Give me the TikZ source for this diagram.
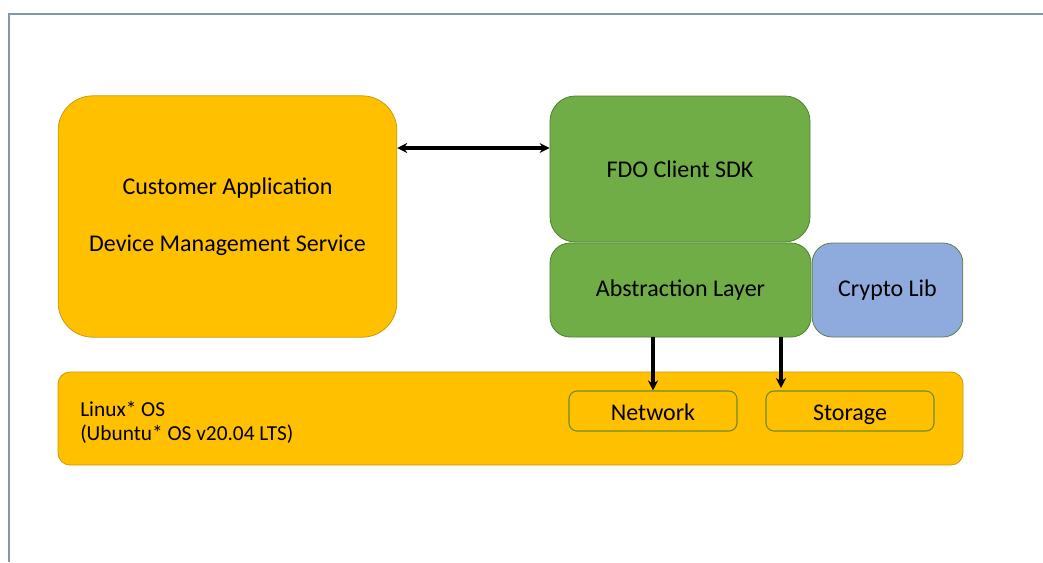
\documentclass[tikz,border=0pt]{standalone}
\usepackage{fontspec}
\setmainfont{Carlito}
\usetikzlibrary{arrows.meta}

\definecolor{appyellow}{HTML}{FFC000}
\definecolor{appyellowline}{HTML}{C99A06}
\definecolor{sdkgreen}{HTML}{70AD47}
\definecolor{sdkgreenline}{HTML}{507E32}
\definecolor{cryptoblue}{HTML}{8FAADC}
\definecolor{frameblue}{HTML}{8497B0}
\definecolor{hwline}{HTML}{6F8A2E}

\tikzset{
	block/.style={draw, line width=0.6pt, align=center, inner sep=0pt,
		font=\fontsize{18}{21.5}\selectfont},
	yellowblock/.style={block, fill=appyellow, draw=appyellowline},
	greenblock/.style={block, fill=sdkgreen, draw=sdkgreenline},
	blueblock/.style={block, fill=cryptoblue, draw=sdkgreenline!70!gray},
	hwblock/.style={block, draw=hwline, line width=0.8pt, rounded corners=6pt,
		minimum width=126pt, minimum height=30pt, text height=14.5pt, text depth=1pt},
	link/.style={draw=black, line width=2.6pt, -{Stealth[length=7.5pt,width=7.5pt]}}
}

\begin{document}
\begin{tikzpicture}[x=0.75pt, y=-0.75pt]
			        \useasboundingbox (0,0) rectangle (1043,562);

			        % frame of the slide
			        \draw [frameblue, line width=1.3pt] (9,562) -- (9,14) -- (1043,14);

			        % application side
			        \node [yellowblock, rounded corners=26pt, minimum width=254pt, minimum height=181pt]
			        (cust) at (227.5,216.5) {Customer Application\\[21pt]Device Management Service};

			        % client sdk stack
			        \node [greenblock, rounded corners=19pt, minimum width=195pt, minimum height=109.5pt]
			        (fdo) at (680,169) {FDO Client SDK};
			        \node [greenblock, rounded corners=15pt, minimum width=195.75pt, minimum height=70.5pt]
			        (abs) at (680.5,290) {Abstraction Layer};
			        \node [blueblock, rounded corners=15pt, minimum width=113pt, minimum height=70.5pt]
			        (crypto) at (887.5,290) {Crypto Lib};

			        % operating system bar
			        \node [yellowblock, rounded corners=9pt, minimum width=678.75pt, minimum height=69.75pt]
			        (os) at (510.5,418.5) {};
			        \node [anchor=west, align=left, inner sep=0pt, font=\fontsize{16}{18}\selectfont]
			        (oslabel) at (80,422) {Linux* OS\\(Ubuntu* OS v20.04 LTS)};
			        \node [hwblock] (net) at (653,411) {Network};
			        \node [hwblock] (store) at (850,411) {Storage};

			        % connections
			        \draw [link, {Stealth[length=7.5pt,width=7.5pt]}-{Stealth[length=7.5pt,width=7.5pt]}]
			        (cust.east |- 0,148) -- (fdo.west |- 0,148);
			        \draw [link] (abs.south -| net.north) -- (net.north);
			        \coordinate (storetip) at (781,388);
			        \draw [link] (abs.south -| storetip) -- (storetip);
\end{tikzpicture}
\end{document}
